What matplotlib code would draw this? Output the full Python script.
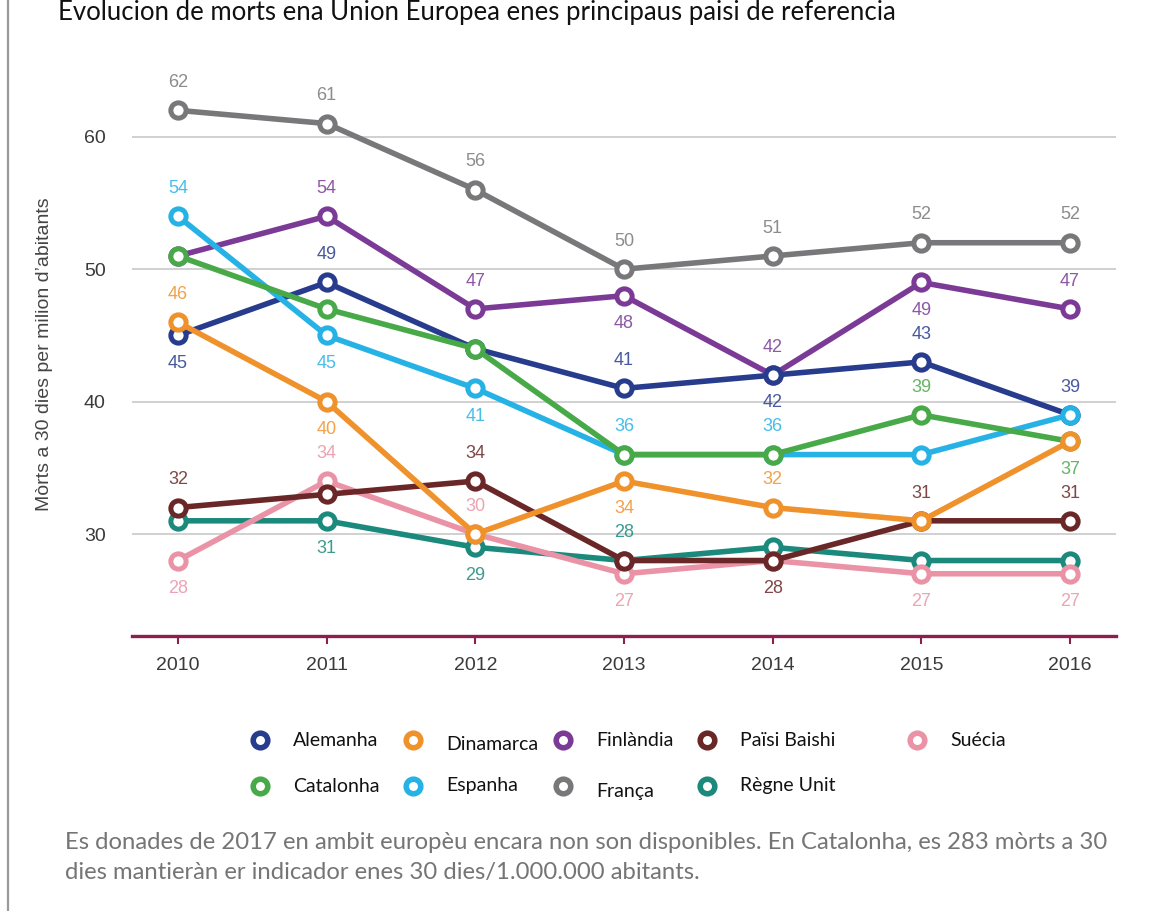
import matplotlib
matplotlib.use("Agg")
import matplotlib.pyplot as plt

years = ["2010", "2011", "2012", "2013", "2014", "2015", "2016"]

names = ["Alemanha", "Dinamarca", "Finlàndia", "Païsi Baishi", "Suécia",
         "Catalonha", "Espanha", "França", "Règne Unit"]

alemanha = [45, 49, 44, 41, 42, 43, 39]
dinamarca = [46, 40, 30, 34, 32, 31, 37]
finlandia = [51, 54, 47, 48, 42, 49, 47]
paisi_baishi = [32, 33, 34, 28, 28, 31, 31]
suecia = [28, 34, 30, 27, 28, 27, 27]
catalonha = [51, 47, 44, 36, 36, 39, 37]
espanha = [54, 45, 41, 36, 36, 36, 39]
franca = [62, 61, 56, 50, 51, 52, 52]
regne_unit = [31, 31, 29, 28, 29, 28, 28]

# where the value labels sit: a = above, b = below, "" = none
lab_alemanha = ["b", "a", "", "a", "b", "a", ""]
lab_dinamarca = ["a", "b", "", "b", "a", "", ""]
lab_finlandia = ["", "a", "a", "b", "a", "b", "a"]
lab_paisi = ["a", "", "a", "", "b", "a", "a"]
lab_suecia = ["b", "a", "a", "b", "", "b", "b"]
lab_catalonha = ["", "", "", "", "", "a", "b"]
lab_espanha = ["a", "b", "b", "a", "a", "", "a"]
lab_franca = ["a", "a", "a", "a", "a", "a", "a"]
lab_regne = ["", "b", "b", "a", "", "", ""]

colors = {
    "Alemanha": "#283c8e", "Dinamarca": "#f0922c", "Finlàndia": "#7b3a96",
    "Païsi Baishi": "#6a2727", "Suécia": "#ea93a6", "Catalonha": "#48a948",
    "Espanha": "#27b2e6", "França": "#78787a", "Règne Unit": "#1b8a7c",
}

series = {
    "Alemanha": (alemanha, lab_alemanha), "Dinamarca": (dinamarca, lab_dinamarca),
    "Finlàndia": (finlandia, lab_finlandia), "Païsi Baishi": (paisi_baishi, lab_paisi),
    "Suécia": (suecia, lab_suecia), "Catalonha": (catalonha, lab_catalonha),
    "Espanha": (espanha, lab_espanha), "França": (franca, lab_franca),
    "Règne Unit": (regne_unit, lab_regne),
}
draw_order = ["Finlàndia", "Alemanha", "Espanha", "Catalonha", "Règne Unit",
              "Suécia", "Païsi Baishi", "Dinamarca", "França"]

CHART_FONT = ["Liberation Sans", "DejaVu Sans"]
TEXT_FONT = ["Lato", "DejaVu Sans"]
W, H = 1174, 911

fig = plt.figure(figsize=(W / 100, H / 100), dpi=100)
ax = fig.add_axes([132 / W, 1 - 636 / H, 984 / W, 576 / H])

x = list(range(len(years)))
for name in draw_order:
    vals, labs = series[name]
    c = colors[name]
    ax.plot(x, vals, color=c, lw=4.0, marker="o", ms=11, mew=3.6,
            mfc="white", mec=c, solid_joinstyle="round", zorder=3)
    for xi, v, pos in zip(x, vals, labs):
        if not pos:
            continue
        off = 20 if pos == "a" else -20
        lc = colors["Alemanha"] if (name == "Espanha" and xi == 6) else c
        ax.annotate(str(v), (xi, v), xytext=(0, off), textcoords="offset points",
                    ha="center", va="center", fontsize=13, color=lc,
                    family=CHART_FONT, alpha=0.85, zorder=4)

ax.set_xlim(-0.309, 6.309)
ax.set_ylim(22.3, 65.8)
ax.set_yticks([30, 40, 50, 60])
ax.set_xticks(x)
ax.set_xticklabels(years)
ax.grid(axis="y", color="#c4c4c4", lw=1.1)
ax.set_axisbelow(True)
for s in ["top", "right", "left"]:
    ax.spines[s].set_visible(False)
ax.spines["bottom"].set_color("#8c1f4e")
ax.spines["bottom"].set_linewidth(2.4)
ax.tick_params(axis="x", colors="#8c1f4e", length=6, width=1.5, pad=9)
ax.tick_params(axis="y", length=0, pad=19)
for t in ax.get_xticklabels() + ax.get_yticklabels():
    t.set_color("#3a3a3a"); t.set_fontsize(14); t.set_family(CHART_FONT)

fig.text(45 / W, 1 - 354 / H, "Mòrts a 30 dies per milion d\u2019abitants", rotation=90,
         ha="center", va="center", fontsize=14, color="#444444", family=CHART_FONT)

# overlay in pixel coords for title, legend, note and frame
ov = fig.add_axes([0, 0, 1, 1], zorder=-1)
ov.set_xlim(0, W); ov.set_ylim(H, 0); ov.axis("off")
ov.plot([8, 8], [0, H], color="#9a9a9a", lw=1.6)

fig.text(58 / W, 1 - 20 / H, "Evolucion de morts ena Union Europea enes principaus paisi de referencia",
         ha="left", va="baseline", fontsize=18.5, color="#111111", family=TEXT_FONT)

leg_pos = {
    "Alemanha": (260, 740), "Dinamarca": (413, 740), "Finlàndia": (563, 740),
    "Païsi Baishi": (707, 740), "Suécia": (917, 740),
    "Catalonha": (260, 786), "Espanha": (413, 786), "França": (563, 786),
    "Règne Unit": (707, 786),
}
leg_dy = {"Dinamarca": 4, "França": 5}
for name in names:
    px, py = leg_pos[name]
    ov.plot([px], [py], marker="o", ms=10.5, mew=4.0, mfc="white", mec=colors[name])
    ov.text(px + 33, py + leg_dy.get(name, 0), name, ha="left", va="center",
            fontsize=14, color="#111111", family=TEXT_FONT)

note = ("Es donades de 2017 en ambit europèu encara non son disponibles. En Catalonha, es 283 mòrts a 30\n"
        "dies mantieràn er indicador enes 30 dies/1.000.000 abitants.")
ov.text(65, 832, note, ha="left", va="top", fontsize=17.2, color="#757575",
        family=TEXT_FONT, linespacing=1.5)

fig.savefig("out.png", dpi=100)
